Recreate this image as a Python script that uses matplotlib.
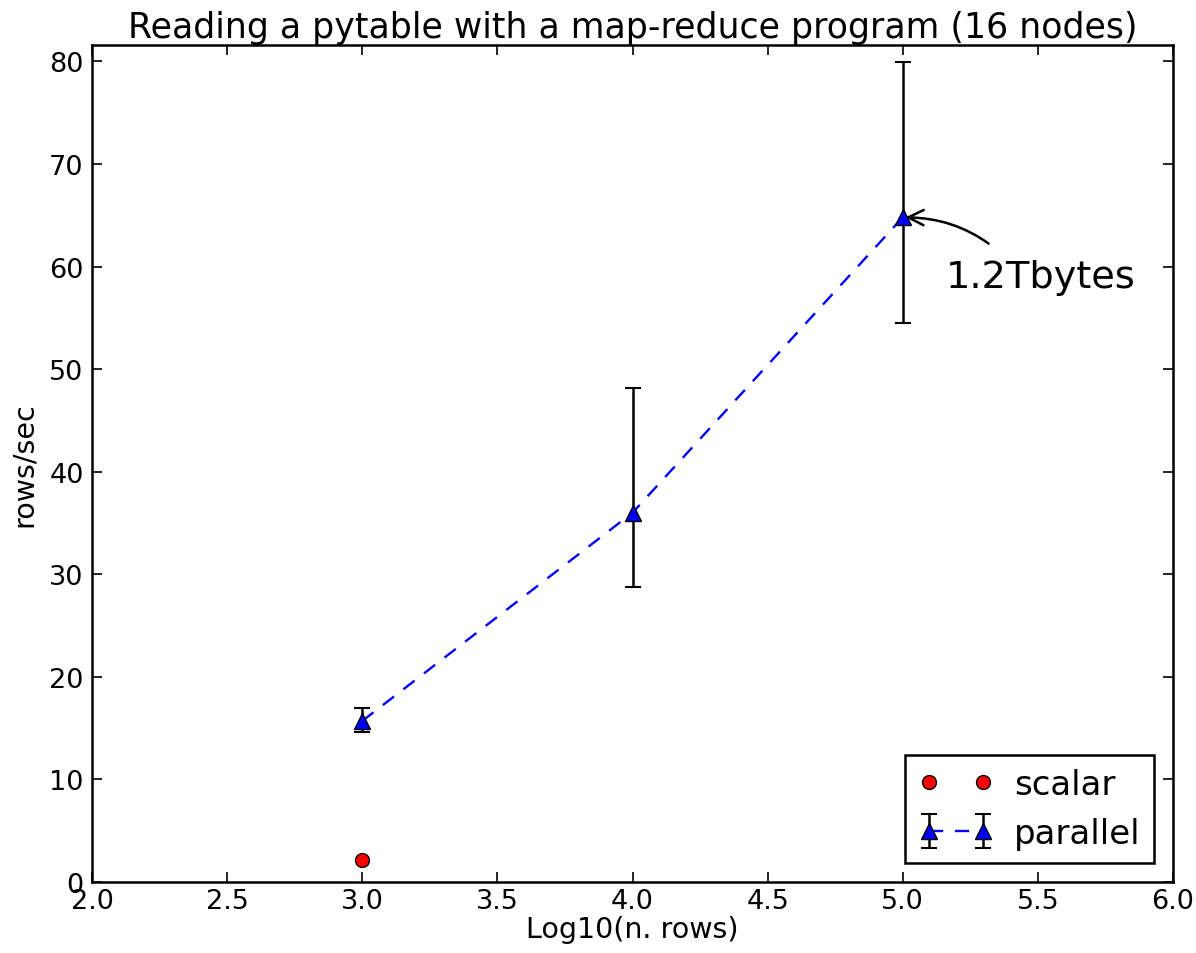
import matplotlib
matplotlib.use("Agg")
import matplotlib.pyplot as plt

# data
scalar_x = [3.0]
scalar_y = [2.1]

par_x = [3.0, 4.0, 5.0]
par_y = [15.7, 36.0, 64.8]
par_lo = [14.6, 28.8, 54.5]
par_hi = [17.0, 48.2, 79.9]

err_low = [y - lo for y, lo in zip(par_y, par_lo)]
err_high = [hi - y for y, hi in zip(par_y, par_hi)]

plt.rcParams["xtick.direction"] = "in"
plt.rcParams["ytick.direction"] = "in"
plt.rcParams["xtick.top"] = True
plt.rcParams["ytick.right"] = True
plt.rcParams["xtick.major.size"] = 7
plt.rcParams["ytick.major.size"] = 7

fig = plt.figure(figsize=(11.96, 9.54), dpi=100)
ax = fig.add_axes([92 / 1196, 1 - 883 / 954, (1173 - 92) / 1196, (883 - 46) / 954])

ax.plot(scalar_x, scalar_y, "o", color="red", markeredgecolor="black",
        markersize=10, label="scalar")
ax.errorbar(par_x, par_y, yerr=[err_low, err_high], fmt="^--", color="blue",
            markeredgecolor="black", markersize=11, ecolor="black",
            elinewidth=1.8, capsize=6, capthick=1.5, linewidth=1.7,
            dashes=(6, 5), label="parallel")

ax.annotate("1.2Tbytes", xy=(5.0, 64.8), xytext=(5.16, 59.0),
            fontsize=27.5, va="center", ha="left",
            arrowprops=dict(arrowstyle="->", color="black", lw=1.8,
                            connectionstyle="arc3,rad=0.25",
                            shrinkA=14, shrinkB=2, relpos=(0.4, 0.5)))

ax.set_xlim(2.0, 6.0)
ax.set_ylim(0, 81.6)
ax.set_xticks([2.0, 2.5, 3.0, 3.5, 4.0, 4.5, 5.0, 5.5, 6.0])
ax.set_yticks([0, 10, 20, 30, 40, 50, 60, 70, 80])
ax.xaxis.set_major_formatter(plt.FormatStrFormatter("%.1f"))
ax.tick_params(labelsize=19.5, width=1.2)
ax.tick_params(axis="x", pad=4)
ax.tick_params(axis="y", pad=6)
for s in ax.spines.values():
    s.set_linewidth(1.8)

ax.set_title("Reading a pytable with a map-reduce program (16 nodes)",
             fontsize=25, pad=6)
ax.set_xlabel("Log10(n. rows)", fontsize=20.5, labelpad=1)
ax.set_ylabel("rows/sec", fontsize=20.5, labelpad=8)

leg = ax.legend(loc="lower right", numpoints=2, fontsize=24.5, fancybox=False,
                framealpha=1, borderaxespad=0.55, handletextpad=0.6,
                handlelength=2.2, borderpad=0.4, labelspacing=0.45)
leg.get_frame().set_edgecolor("black")
leg.get_frame().set_linewidth(1.8)

fig.savefig("out.png", dpi=100, facecolor="white")
